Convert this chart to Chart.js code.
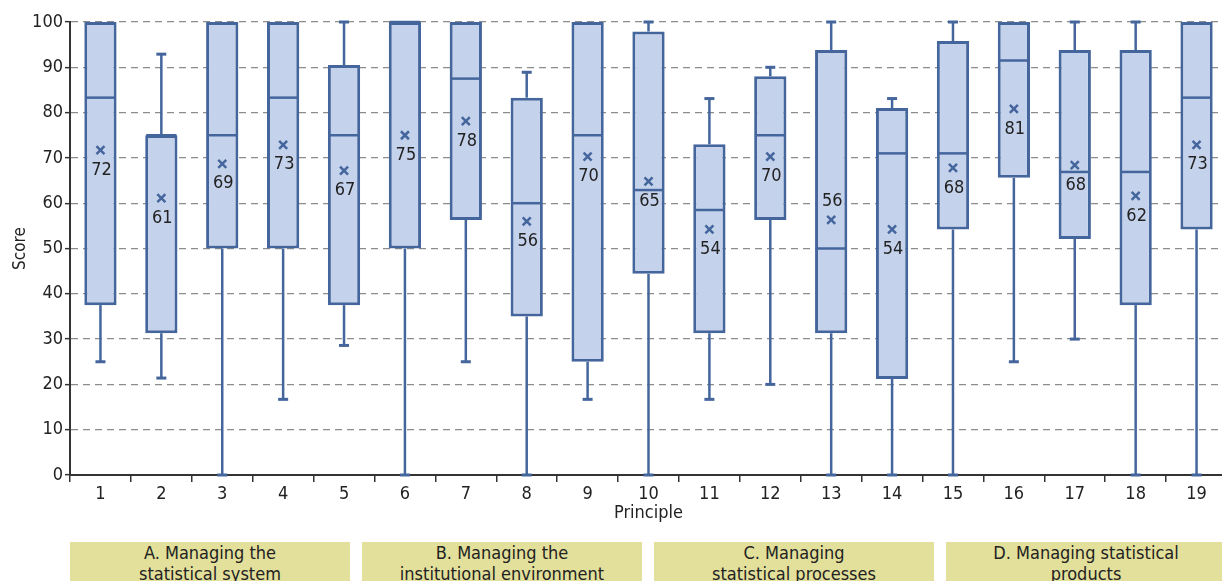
<!DOCTYPE html>
<html>
<head>
<meta charset="utf-8">
<script src="https://cdn.jsdelivr.net/npm/chart.js@4.4.0/dist/chart.umd.min.js"></script>
<style>
  html, body { margin: 0; padding: 0; background: #fff; overflow: hidden; width: 1222px; height: 581px; }
  #wrap { position: absolute; left: 0; top: 0; width: 1240px; height: 524px; }
  .group {
    position: absolute; top: 542px; width: 280px; height: 60px;
    background: #e3e09b; color: #222; text-align: center;
    font-family: 'Liberation Sans Narrow', 'DejaVu Sans Condensed', sans-serif;
    font-size: 18px; line-height: 21px; padding-top: 0;
  }
</style>
</head>
<body>
<div id="wrap"><canvas id="boxChart" width="1240" height="524"></canvas></div>
<div class="group" style="left:70px">A. Managing the<br>statistical system</div>
<div class="group" style="left:362px">B. Managing the<br>institutional environment</div>
<div class="group" style="left:654px">C. Managing<br>statistical processes</div>
<div class="group" style="left:946px">D. Managing statistical<br>products</div>
<script>
const FONT = "'Liberation Sans Narrow', 'DejaVu Sans Condensed', sans-serif";

// data
const categories = ['1','2','3','4','5','6','7','8','9','10','11','12','13','14','15','16','17','18','19'];
const lows    = [25, 21.4, 0, 16.7, 28.6, 0, 25, 0, 16.7, 0, 16.7, 20, 0, 0, 0, 25, 30, 0, 0];
const q1      = [37.5, 31.3, 50, 50, 37.5, 50, 56.3, 35, 25, 44.4, 31.3, 56.3, 31.3, 21.2, 54.2, 65.6, 52.1, 37.5, 54.2];
const medians = [83.3, 75, 75, 83.3, 75, 100, 87.5, 60, 75, 62.9, 58.5, 75, 50, 71, 71, 91.5, 66.9, 66.9, 83.3];
const q3      = [100, 75, 100, 100, 90.5, 100, 100, 83.3, 100, 97.9, 73, 88, 93.8, 81, 95.8, 100, 93.8, 93.8, 100];
const highs   = [100, 92.9, 100, 100, 100, 100, 100, 88.9, 100, 100, 83.1, 90, 100, 83.1, 100, 100, 100, 100, 100];
const means   = [71.7, 61.1, 68.7, 72.9, 67.2, 75, 78.1, 56, 70.3, 64.8, 54.2, 70.3, 56.3, 54.2, 67.8, 80.8, 68.4, 61.6, 72.9];
const yTicks  = [0, 10, 20, 30, 40, 50, 60, 70, 80, 90, 100];
// principles whose mean label sits above the marker
const labelAbove = ['13'];

const edge = '#44669c';
const fill = '#c5d2ec';

// whiskers, medians and mean markers
const boxPlot = {
  id: 'boxPlot',
  beforeDatasetsDraw(chart) {
    const { ctx, scales: { x, y } } = chart;
    ctx.save();
    ctx.strokeStyle = edge;
    categories.forEach((c, i) => {
      const cx = x.getPixelForValue(i);
      [[q3[i], highs[i]], [q1[i], lows[i]]].forEach(([from, to]) => {
        if (from === to) return;
        ctx.lineWidth = 2.5;
        ctx.beginPath();
        ctx.moveTo(cx, y.getPixelForValue(from));
        ctx.lineTo(cx, y.getPixelForValue(to));
        ctx.stroke();
        ctx.lineWidth = 3;
        ctx.beginPath();
        ctx.moveTo(cx - 5, y.getPixelForValue(to));
        ctx.lineTo(cx + 5, y.getPixelForValue(to));
        ctx.stroke();
      });
    });
    ctx.restore();
  },
  afterDatasetsDraw(chart) {
    const { ctx, scales: { x, y } } = chart;
    const meta = chart.getDatasetMeta(0);
    ctx.save();
    categories.forEach((c, i) => {
      const bar = meta.data[i];
      const cx = x.getPixelForValue(i);
      const half = bar.width / 2;
      // median
      const my = y.getPixelForValue(medians[i]);
      ctx.strokeStyle = edge;
      ctx.lineWidth = 2.5;
      ctx.beginPath();
      ctx.moveTo(cx - half + 1, my);
      ctx.lineTo(cx + half - 1, my);
      ctx.stroke();
      // mean marker
      const ay = y.getPixelForValue(means[i]);
      ctx.lineWidth = 2.5;
      ctx.beginPath();
      ctx.moveTo(cx - 4, ay - 4); ctx.lineTo(cx + 4, ay + 4);
      ctx.moveTo(cx + 4, ay - 4); ctx.lineTo(cx - 4, ay + 4);
      ctx.stroke();
      // mean label
      ctx.fillStyle = '#222';
      ctx.font = '18px ' + FONT;
      ctx.textAlign = 'center';
      ctx.textBaseline = 'middle';
      const ly = labelAbove.includes(c) ? ay - 19 : ay + 20;
      ctx.fillText(String(Math.round(means[i])), cx + 1, ly);
    });
    ctx.restore();
  }
};

const canvas = document.getElementById('boxChart');
new Chart(canvas.getContext('2d'), {
  type: 'bar',
  data: {
    labels: categories,
    datasets: [{
      data: categories.map((c, i) => [q1[i], q3[i]]),
      backgroundColor: fill,
      borderColor: edge,
      borderWidth: 3,
      borderSkipped: false,
      barPercentage: 0.53,
      categoryPercentage: 1
    }]
  },
  options: {
    responsive: false,
    animation: false,
    devicePixelRatio: 1,
    layout: { padding: { left: 0, right: 13, top: 22, bottom: 0 } },
    plugins: { legend: { display: false }, tooltip: { enabled: false } },
    scales: {
      x: {
        offset: true,
        grid: { offset: true, drawOnChartArea: false, drawTicks: true, tickLength: 7, color: '#333', lineWidth: 1.5 },
        border: { display: true, color: '#333', width: 2 },
        ticks: { color: '#222', padding: 2, font: { family: FONT, size: 18 }, maxRotation: 0 },
        title: { display: true, text: 'Principle', color: '#222', font: { family: FONT, size: 18 }, padding: { top: 0, bottom: 0 } },
        afterFit: s => { s.height = 49; }
      },
      y: {
        min: 0,
        max: 100,
        afterBuildTicks: s => { s.ticks = yTicks.map(v => ({ value: v })); },
        grid: { color: '#8c8c8c', lineWidth: 1.3, tickLength: 5, tickColor: '#333', tickWidth: 1.5 },
        border: { display: true, color: '#333', width: 2, dash: [7, 5] },
        ticks: { color: '#222', padding: 2, font: { family: FONT, size: 18 } },
        title: { display: true, text: 'Score', color: '#222', font: { family: FONT, size: 17 }, padding: { top: 10, bottom: 4 } },
        afterFit: s => { s.width = 70; }
      }
    }
  },
  plugins: [boxPlot]
});
</script>
</body>
</html>
